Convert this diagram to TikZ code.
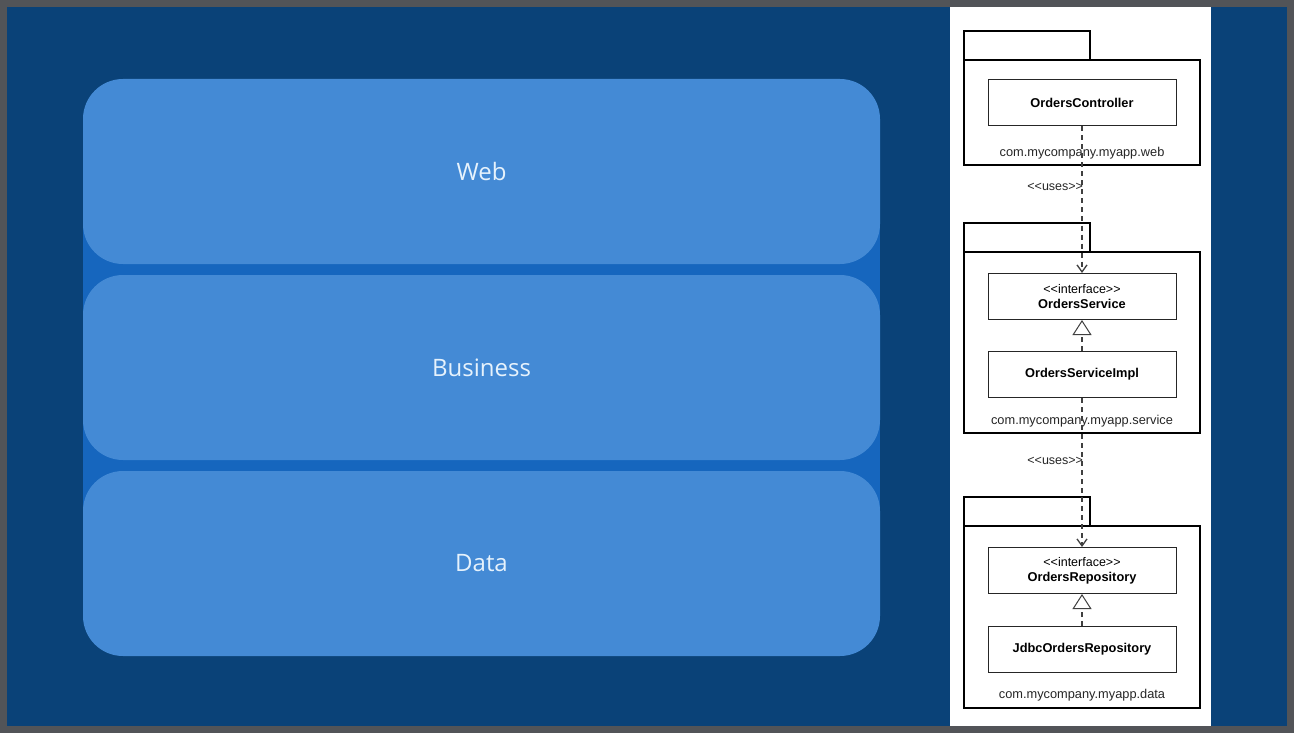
\documentclass[tikz,border=0pt]{standalone}
\usepackage{fontspec}
\setmainfont{Liberation Sans}
\newfontfamily\layerfont{Open Sans}
\usepackage{tikz}
\usetikzlibrary{arrows.meta}
\definecolor{framegrey}{HTML}{525458}
\definecolor{bgdark}{HTML}{0A4278}
\definecolor{bgmid}{HTML}{1666BE}
\definecolor{layerfill}{HTML}{448AD5}
\definecolor{layertext}{HTML}{E6F2FC}
\newcommand{\umlstereo}[1]{<\kern0pt<#1>\kern0pt>}
\tikzstyle{layer} = [rectangle, rounded corners=40pt, minimum width=797pt, minimum height=185pt, fill=layerfill, text=layertext, font=\layerfont\fontsize{24}{28}\selectfont]
\tikzstyle{pkg} = [rectangle, minimum width=236pt, draw=black, line width=2pt, outer sep=0pt]
\tikzstyle{pkgtab} = [rectangle, minimum width=126pt, minimum height=29pt, draw=black, line width=2pt, outer sep=0pt, anchor=south west]
\tikzstyle{pkglabel} = [anchor=base, inner sep=0pt, text=black!85, font=\fontsize{12.8}{15}\selectfont]
\tikzstyle{umlclass} = [rectangle, minimum width=188pt, minimum height=46pt, draw=black!85, line width=1pt, fill=white, align=center, font=\fontsize{12.8}{15}\selectfont\bfseries]
\tikzstyle{stereo} = [text=black!85, font=\fontsize{12.5}{14}\selectfont\mdseries]
\tikzstyle{uses} = [line width=1.3pt, draw=black!75, dash pattern=on 5pt off 4pt, -{Straight Barb[length=7pt,width=10pt]}]
\tikzstyle{realizes} = [line width=1.3pt, draw=black!75, dash pattern=on 5pt off 4pt, -{Triangle[open,length=15pt,width=19pt,line width=1pt,fill=white]}]

\begin{document}
\begin{tikzpicture}[x=1pt, y=-1pt, node distance=196pt]
        \useasboundingbox (0,0) rectangle (1294,733);
        \fill [framegrey] (0,0) rectangle (1294,733);
        \fill [bgdark] (7,7) rectangle (1287,726);
        \fill [bgmid] (83,170) rectangle (880,563);
        % layers
        \node (web) [layer] at (481.5,171.5) {Web};
        \node (business) [layer, below of=web] {Business};
        \node (data) [layer, below of=business] {Data};
        % uml panel
        \fill [white] (950,7) rectangle (1211,726);
        \node (webpkg) [pkg, minimum height=105pt] at (1082,112.5) {};
        \node (webtab) [pkgtab] at (webpkg.north west) {};
        \node (servicepkg) [pkg, minimum height=181pt] at (1082,342.5) {};
        \node (servicetab) [pkgtab] at (servicepkg.north west) {};
        \node (datapkg) [pkg, minimum height=182pt] at (1082,617) {};
        \node (datatab) [pkgtab] at (datapkg.north west) {};
        \node (weblbl) [pkglabel] at ([yshift=8pt]webpkg.south) {com.mycompany.myapp.web};
        \node (servicelbl) [pkglabel] at ([yshift=9pt]servicepkg.south) {com.mycompany.myapp.service};
        \node (datalbl) [pkglabel] at ([yshift=10pt]datapkg.south) {com.mycompany.myapp.data};
        \node (ctrl) [umlclass] at (1082,103) {OrdersController};
        \node (svc) [umlclass, below of=ctrl, yshift=2.5pt] {{\fontsize{12.5}{14}\selectfont\mdseries\umlstereo{interface}}\\OrdersService};
        \node (svcimpl) [umlclass, below of=svc, yshift=118pt] {OrdersServiceImpl};
        \node (repo) [umlclass, below of=svcimpl] {{\fontsize{12.5}{14}\selectfont\mdseries\umlstereo{interface}}\\OrdersRepository};
        \node (jdbcrepo) [umlclass, below of=repo, yshift=117pt] {JdbcOrdersRepository};
        \draw [uses] (ctrl) -- node[stereo, pos=0.41, left, xshift=5pt] {\umlstereo{uses}} (svc);
        \draw [realizes] (svcimpl) -- (svc);
        \draw [uses] (svcimpl) -- node[stereo, pos=0.42, left, xshift=5pt] {\umlstereo{uses}} (repo);
        \draw [realizes] (jdbcrepo) -- (repo);
\end{tikzpicture}
\end{document}
